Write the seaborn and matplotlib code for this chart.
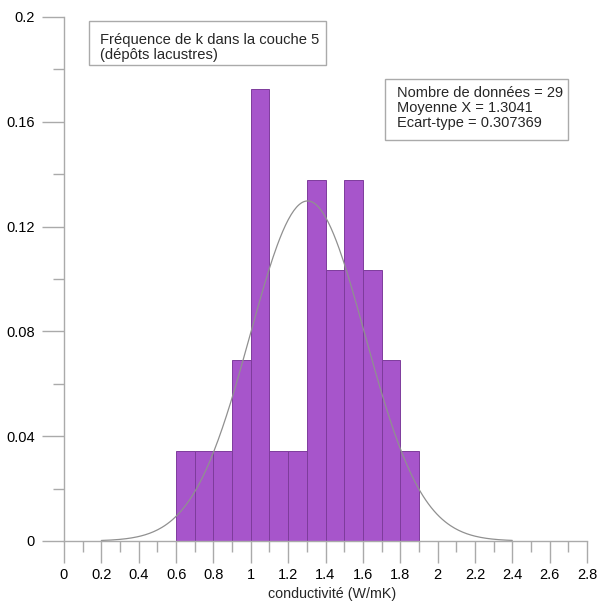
import numpy as np
import pandas as pd
import matplotlib
matplotlib.use("Agg")
import matplotlib.pyplot as plt
from matplotlib.patches import Rectangle
import seaborn as sns
from matplotlib.ticker import MultipleLocator, FuncFormatter

# ---- data ----
bin_edges = [0.6, 0.7, 0.8, 0.9, 1.0, 1.1, 1.2, 1.3, 1.4, 1.5, 1.6, 1.7, 1.8, 1.9]
bin_counts = [1, 1, 1, 2, 5, 1, 1, 4, 3, 4, 3, 2, 1]
n_data = 29
mean_x = 1.3041
std_x = 0.307369
curve_range = (0.2, 2.4)
title_lines = ["Fréquence de k dans la couche 5", "(dépôts lacustres)"]
stats_lines = ["Nombre de données = 29", "Moyenne X = 1.3041", "Ecart-type = 0.307369"]
xlabel = "conductivité (W/mK)"

sns.set_style("white")
plt.rcParams['font.family'] = ['Liberation Sans', 'DejaVu Sans']

W, H = 598, 603
fig = plt.figure(figsize=(W / 100, H / 100), dpi=100)
ax = fig.add_axes([64 / W, 1 - 541 / H, (587 - 64) / W, (541 - 17) / H])

def px(x, y):
    return (x / W, 1 - y / H)

centers = [(a + b) / 2 for a, b in zip(bin_edges[:-1], bin_edges[1:])]
df = pd.DataFrame({"x": centers, "w": bin_counts})
sns.histplot(data=df, x="x", weights="w", bins=bin_edges, stat="probability",
             color="#A755CB", edgecolor="#7E3C9C", linewidth=0.7, alpha=1.0, ax=ax)

# fitted normal curve (from displayed mean / std, scaled by bin width)
bw = bin_edges[1] - bin_edges[0]
xs = np.linspace(curve_range[0], curve_range[1], 300)
ys = bw * np.exp(-0.5 * ((xs - mean_x) / std_x) ** 2) / (std_x * np.sqrt(2 * np.pi))
sns.lineplot(x=xs, y=ys, color="#909090", linewidth=0.9, ax=ax)

ax.set_xlim(0, 2.8)
ax.set_ylim(0, 0.2)
ax.xaxis.set_major_locator(MultipleLocator(0.2))
ax.xaxis.set_minor_locator(MultipleLocator(0.1))
ax.yaxis.set_major_locator(MultipleLocator(0.04))
ax.yaxis.set_minor_locator(MultipleLocator(0.02))
fmt = FuncFormatter(lambda v, p: ("%.2f" % v).rstrip("0").rstrip(".") if abs(v) > 1e-9 else "0")
ax.xaxis.set_major_formatter(fmt)
ax.yaxis.set_major_formatter(fmt)

for s in ["top", "right"]:
    ax.spines[s].set_visible(False)
for s in ["left", "bottom"]:
    ax.spines[s].set_color("#aaaaaa")
    ax.spines[s].set_linewidth(1.0)
ax.tick_params(which="major", length=16, width=1.0, color="#aaaaaa", direction="out",
               labelsize=10.5, labelcolor="black", pad=5)
ax.tick_params(which="minor", length=8, width=1.0, color="#aaaaaa", direction="out")
ax.tick_params(axis="x", which="major", pad=3.5)
ax.tick_params(left=True, bottom=True, which="both")

ax.set_xlabel("")
ax.set_ylabel("")
fig.text(*px(332, 598), xlabel, fontsize=10.3, ha="center", va="baseline")

# text boxes
for (x0, y0, x1, y1) in [(89, 21, 326, 65), (385, 79, 568, 140)]:
    fig.patches.append(Rectangle(px(x0, y1), (x1 - x0) / W, (y1 - y0) / H,
                                 transform=fig.transFigure, facecolor="white",
                                 edgecolor="#aaaaaa", linewidth=1.0, zorder=5))
for i, t in enumerate(title_lines):
    fig.text(*px(100, 44 + i * 14.5), t, fontsize=10.6, ha="left", va="baseline", zorder=6)
for i, t in enumerate(stats_lines):
    fig.text(*px(397, 97 + i * 15), t, fontsize=10.5, ha="left", va="baseline", zorder=6)

fig.savefig("out.png", dpi=100)
